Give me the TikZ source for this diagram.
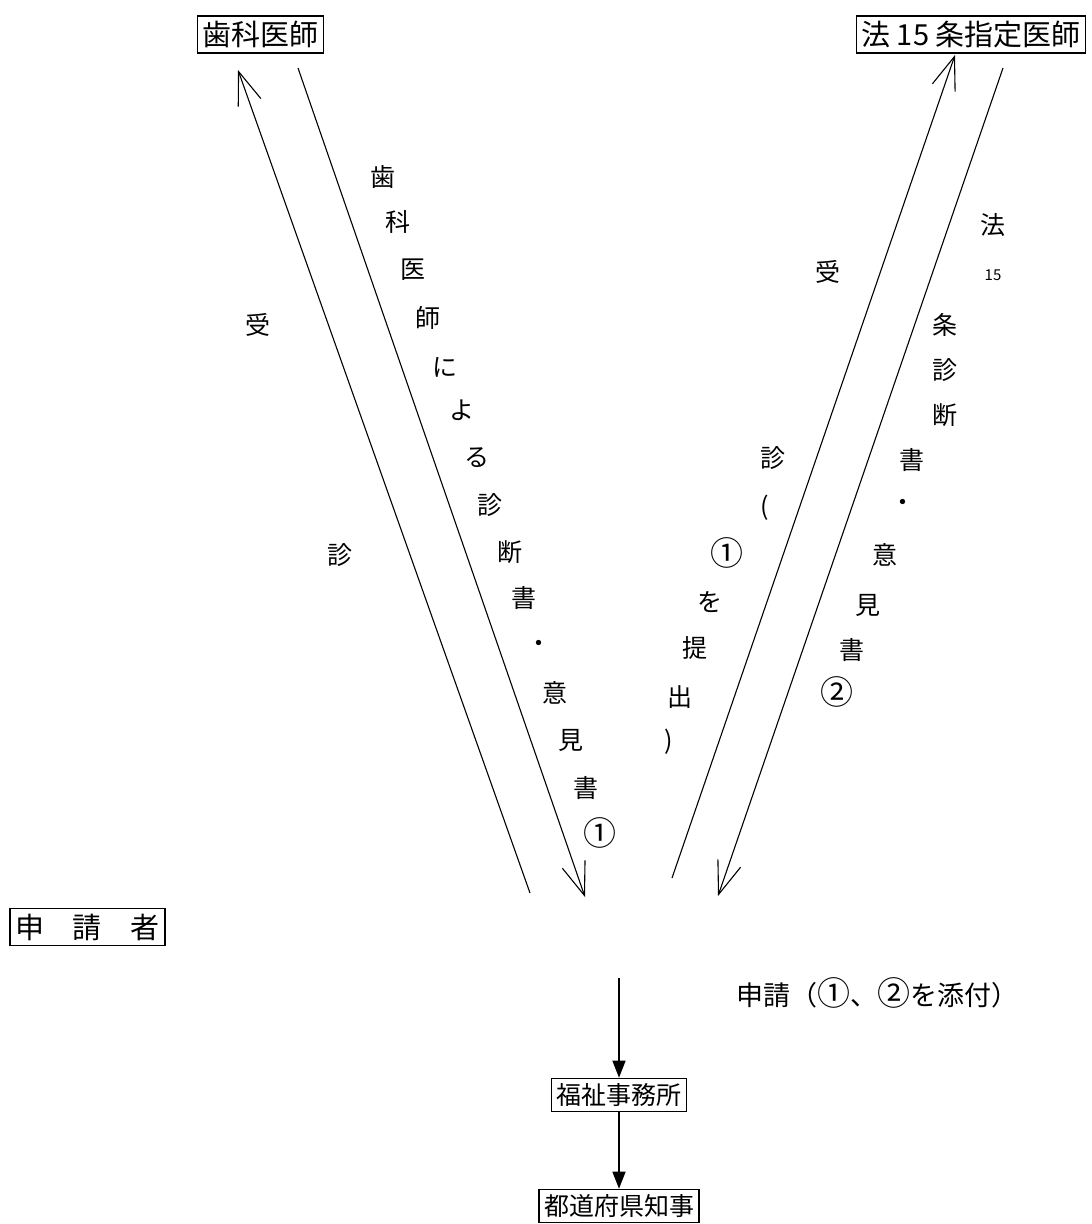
\documentclass[tikz,border=0pt]{standalone}
\usepackage{fontspec}
\setmainfont{Noto Sans CJK JP}
\usetikzlibrary{arrows.meta,positioning}
\newcommand\circnum[1]{{\fontsize{33}{33}\selectfont #1}}

\begin{document}
\begin{tikzpicture}[
x=1pt, y=-1pt,
box/.style={draw, line width=1.5pt, inner xsep=5pt, inner ysep=5pt, font=\fontsize{29}{29}\selectfont},
lowbox/.style={box, inner ysep=5pt, font=\fontsize{25}{25}\selectfont},
vchar/.style={inner sep=0pt, font=\fontsize{25}{25}\selectfont},
barb/.style={-{Straight Barb[length=33pt,width=24pt]}, line width=1.1pt},
arr/.style={-{Triangle[length=17pt,width=13pt]}, line width=1.3pt}
]
\useasboundingbox (0,0) rectangle (1092,1224);
% boxes
\node[box] (dentist) at (260.5,34.5) {歯科医師};
\node[box] (doctor) at (971,34.5) {法 15 条指定医師};
\node[box] (applicant) at (87.5,927) {申　請　者};
\node[lowbox] (office) at (619,1095) {福祉事務所};
\node[lowbox] (governor) at (619,1206) {都道府県知事};
% free ends of the long arrows
\coordinate (dentUp) at (238,70);
\coordinate (dentUpFoot) at (530,893);
\coordinate (dentDown) at (298,68);
\coordinate (dentDownFoot) at (585,897);
\coordinate (docUp) at (955,55);
\coordinate (docUpFoot) at (672,878);
\coordinate (docDown) at (1003,68);
\coordinate (docDownFoot) at (718,896);
\coordinate (applyTop) at (619,978);
\draw[barb] (dentUpFoot) -- (dentUp);
\draw[barb] (dentDown) -- (dentDownFoot);
\draw[barb] (docUpFoot) -- (docUp);
\draw[barb] (docDown) -- (docDownFoot);
\draw[arr] (applyTop) -- (office);
\draw[arr] (office) -- (governor);
\node[font=\fontsize{27}{27}\selectfont] (applyNote) at (877,993) {申請（\circnum{①}、\circnum{②}を添付）};
% labels set down the arrows
\foreach \ch/\px/\py [count=\i] in {受/258/325, 診/340/555}
  \node[vchar] (visitA\i) at (\px,\py) {\ch};
\foreach \ch/\px/\py [count=\i] in {歯/383/177, 科/398/222, 医/413/270, 師/428/318, に/445/367, よ/462/410, る/477/458, 診/490/505, 断/510/552, 書/524/598, ・/539/646, 意/555/693, 見/571/740, 書/586/788, \circnum{①}/600/833}
  \node[vchar] (dentNote\i) at (\px,\py) {\ch};
\foreach \ch/\px/\py [count=\i] in {受/828/272, 診/773/458, {(}/765/508, \circnum{①}/727/553, を/710/602, 提/695/648, 出/680/697, {)}/669/742}
  \node[vchar] (visitB\i) at (\px,\py) {\ch};
\foreach \ch/\px/\py [count=\i] in {法/993/225, 条/945/325, 診/945/370, 断/945/415, 書/912/460, ・/903/505, 意/885/555, 見/868/605, 書/852/650, \circnum{②}/837/692}
  \node[vchar] (docNote\i) at (\px,\py) {\ch};
\node[inner sep=0pt, font=\fontsize{15}{15}\selectfont] (docNum) at (993,275) {15};
\end{tikzpicture}
\end{document}
